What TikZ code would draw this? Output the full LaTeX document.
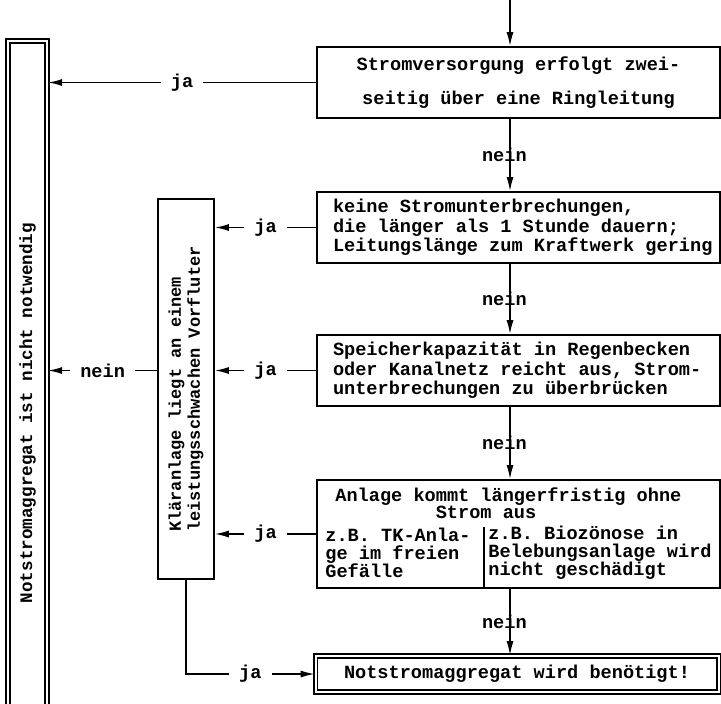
\documentclass[tikz,border=0pt]{standalone}
\usepackage{fontspec}
\setmainfont{Liberation Mono}[WordSpace={1,0,0}]
\usetikzlibrary{arrows.meta,positioning,calc}

\begin{document}
\begin{tikzpicture}
  [x=0.5pt,y=-0.5pt,
   every node/.style={font=\fontsize{9.3}{9.75}\selectfont\bfseries},
   frage/.style={rectangle,draw,line width=0.8pt,minimum width=201.5pt,minimum height=35.5pt,inner sep=0pt},
   links/.style={frage,text width=199pt,align=left,
                 execute at begin node={\leftskip=6.75pt\spaceskip=0pt\xspaceskip=0pt}},
   pfeil/.style={-{Latex[length=7pt,width=3.5pt]},line width=0.8pt},
   antw/.style={fill=white,inner xsep=5pt,inner ysep=1pt},
   nein/.style={inner sep=0pt,xshift=-2.8pt},
   spalte/.style={anchor=west,inner sep=0pt,align=left,font=\fontsize{9.3}{9}\selectfont\bfseries}]

  \useasboundingbox (0,0) rectangle (721,703);

  % questions on the right
  \node[frage,align=center] (strom) at (518.5,82.5) {Stromversorgung erfolgt zwei-\\[7pt]seitig über eine Ringleitung};
  \node[links] (unterbr) at (518.5,227.5) {keine Stromunterbrechungen,\\die länger als 1 Stunde dauern;\\Leitungslänge zum Kraftwerk gering};
  \node[links] (speicher) at (518.5,370.5) {Speicherkapazität in Regenbecken\\oder Kanalnetz reicht aus, Strom-\\unterbrechungen zu überbrücken};
  \node[frage,minimum height=54pt] (ohne) at (518.5,534) {};
  \node[spalte,font=\fontsize{9.3}{8.3}\selectfont\bfseries] (ohnetxt) at (335,503) {Anlage kommt längerfristig ohne\\\hspace*{50.2pt}Strom aus};
  \node[spalte] (tk) at (325,553) {z.B. TK-Anla-\\ge im freien\\Gefälle};
  \node[spalte] (bio) at (488,553) {z.B. Biozönose in\\Belebungsanlage wird\\nicht geschädigt};
  \coordinate (teil) at (484,527);
  \draw[line width=0.8pt] (teil) -- (teil |- ohne.south);
  \node[frage,double,double distance=1pt,minimum height=18pt] (benoetigt) at (517,674) {Notstromaggregat wird benötigt!};

  % rotated boxes: local south is the right side, local north the left side
  \node[rectangle,draw,double,line width=1pt,double distance=0.9pt,rotate=90,
        minimum width=372pt,minimum height=19.5pt,inner sep=0pt,
        font=\fontsize{8.8}{9.4}\selectfont\bfseries] (notw) at (27.5,413) {Notstromaggregat ist nicht notwendig};
  \node[rectangle,draw,line width=0.8pt,rotate=90,align=left,
        minimum width=190pt,minimum height=28pt,inner sep=0pt,
        font=\fontsize{8.5}{9.4}\selectfont\bfseries] (vorfl) at (186,389) {Kläranlage liegt an einem\\leistungsschwachen Vorfluter};

  % main line
  \coordinate (zulauf) at (510,0);
  \draw[pfeil] (zulauf) -- (zulauf |- strom.north);
  \draw[pfeil] (zulauf |- strom.south) -- node[nein]{nein} (zulauf |- unterbr.north);
  \draw[pfeil] (zulauf |- unterbr.south) -- node[nein]{nein} (zulauf |- speicher.north);
  \draw[pfeil] (zulauf |- speicher.south) -- node[nein]{nein} (zulauf |- ohne.north);
  \draw[pfeil] (zulauf |- ohne.south) -- node[nein]{nein} (zulauf |- benoetigt.north);

  % answers to the left
  \draw[pfeil] (strom.west) -- node[antw]{ja} (strom.west -| notw.south);
  \draw[pfeil] (unterbr.west) -- node[antw]{ja} (unterbr.west -| vorfl.south);
  \draw[pfeil] (speicher.west) -- node[antw]{ja} (speicher.west -| vorfl.south);
  \draw[pfeil] (ohne.west) -- node[antw]{ja} (ohne.west -| vorfl.south);
  \draw[pfeil] (vorfl.north |- speicher.west) -- node[antw]{nein} (speicher.west -| notw.south);
  \draw[pfeil] (vorfl.west) |- node[antw,pos=0.75]{ja} (benoetigt.west);

\end{tikzpicture}
\end{document}
